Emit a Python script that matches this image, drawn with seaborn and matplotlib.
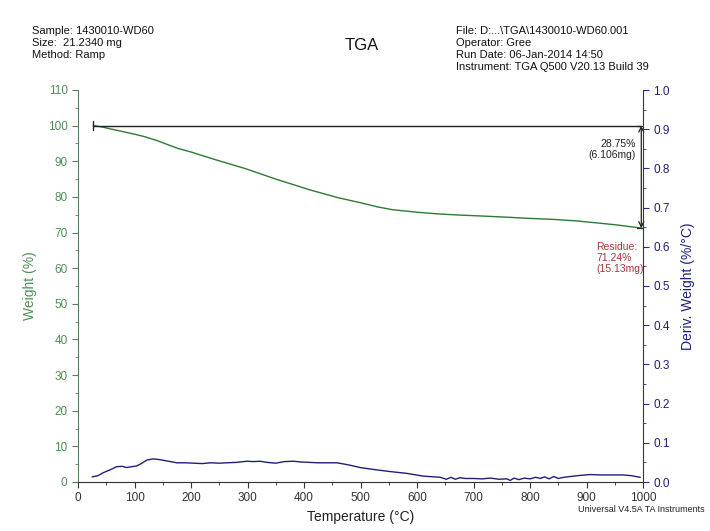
import matplotlib
matplotlib.use("Agg")
import matplotlib.pyplot as plt
import seaborn as sns
import pandas as pd
from matplotlib.ticker import MultipleLocator

# ---- data ----
w_temp = [27, 40, 60, 80, 100, 118, 140, 160, 177, 200, 240, 295, 350, 412, 460, 499, 530, 557, 600, 640, 676, 720, 760, 795, 840, 880, 912, 950, 980, 998]
w_val = [100.0, 99.7, 99.0, 98.3, 97.6, 96.9, 95.8, 94.6, 93.6, 92.6, 90.6, 88.0, 85.0, 81.9, 79.8, 78.4, 77.2, 76.4, 75.7, 75.2, 74.9, 74.6, 74.3, 74.0, 73.7, 73.3, 72.8, 72.2, 71.6, 71.24]

d_temp = [25, 35, 45, 57, 68, 78, 86, 95, 104, 112, 122, 133, 145, 160, 175, 190, 205, 220, 235, 250, 263, 280, 299, 310, 322, 335, 350, 365, 381, 395, 410, 425, 440, 458, 470, 481, 490, 499, 523, 550, 582, 611, 641, 652, 660, 668, 676, 685, 700, 715, 730, 745, 759, 765, 772, 780, 790, 800, 810, 818, 826, 834, 842, 850, 860, 877, 890, 906, 925, 945, 965, 980, 995]
d_val = [0.013, 0.016, 0.024, 0.031, 0.039, 0.040, 0.037, 0.039, 0.041, 0.047, 0.056, 0.059, 0.057, 0.053, 0.049, 0.049, 0.048, 0.047, 0.049, 0.048, 0.049, 0.050, 0.053, 0.052, 0.053, 0.050, 0.048, 0.052, 0.053, 0.051, 0.050, 0.049, 0.049, 0.049, 0.046, 0.043, 0.040, 0.037, 0.032, 0.027, 0.022, 0.015, 0.012, 0.007, 0.012, 0.007, 0.011, 0.009, 0.009, 0.008, 0.010, 0.007, 0.008, 0.004, 0.010, 0.006, 0.010, 0.008, 0.012, 0.009, 0.013, 0.008, 0.014, 0.009, 0.012, 0.015, 0.017, 0.019, 0.018, 0.018, 0.018, 0.016, 0.012]

step_start_temp = 27
step_end_temp = 997
start_weight = 100.0
residue_weight = 71.24
step_label = "28.75%\n(6.106mg)"
residue_label = "Residue:\n71.24%\n(15.13mg)"

x_ticks = list(range(0, 1001, 100))
w_ticks = list(range(0, 111, 10))
d_ticks = [0.0, 0.1, 0.2, 0.3, 0.4, 0.5, 0.6, 0.7, 0.8, 0.9, 1.0]

sns.set_style("ticks")
plt.rcParams['font.family'] = ['Liberation Sans', 'DejaVu Sans']

green = '#2d7a35'
green_lbl = '#4f8f55'
navy = '#1f1f78'
navy_spine = '#2a2a8f'

fig = plt.figure(figsize=(7.1, 5.31), dpi=100)
ax = fig.add_axes([78/710, 1-482/531, (643-78)/710, (482-90)/531])
ax2 = ax.twinx()

wdf = pd.DataFrame({'T': w_temp, 'W': w_val})
ddf = pd.DataFrame({'T': d_temp, 'D': d_val})
sns.lineplot(data=wdf, x='T', y='W', ax=ax, color=green, linewidth=1.0)
sns.lineplot(data=ddf, x='T', y='D', ax=ax2, color=navy, linewidth=1.0)

ax.set_xlim(0, 1000)
ax.set_ylim(0, 110)
ax2.set_ylim(0, 1.0)
ax.set_xticks(x_ticks)
ax.set_yticks(w_ticks)
ax2.set_yticks(d_ticks)
ax2.set_yticklabels([f"{v:.1f}" for v in d_ticks])
ax.xaxis.set_minor_locator(MultipleLocator(50))
ax.yaxis.set_minor_locator(MultipleLocator(5))
ax2.yaxis.set_minor_locator(MultipleLocator(0.05))

for a in (ax, ax2):
    a.spines['top'].set_visible(False)
ax.spines['right'].set_visible(False)
ax.spines['left'].set_color('#5a7f5e')
ax.spines['bottom'].set_color('#333333')
ax2.spines['left'].set_visible(False)
ax2.spines['bottom'].set_visible(False)
ax2.spines['right'].set_color(navy_spine)

ax.tick_params(axis='y', colors='#5a7f5e', labelcolor=green_lbl, labelsize=8.5, length=4, width=0.8)
ax.tick_params(axis='y', which='minor', colors='#5a7f5e', length=2.5)
ax.tick_params(axis='x', colors='#333333', labelcolor='#333333', labelsize=8.5, length=4, width=0.8)
ax.tick_params(axis='x', which='minor', length=2.5)
ax2.tick_params(axis='y', colors=navy_spine, labelcolor=navy, labelsize=8.5, length=4, width=0.8)
ax2.tick_params(axis='y', which='minor', colors=navy_spine, length=2.5)

ax.set_xlabel('Temperature (°C)', fontsize=10, color='#222222', labelpad=4)
ax.set_ylabel('Weight (%)', fontsize=10, color=green_lbl, labelpad=8)
ax2.set_ylabel('Deriv. Weight (%/°C)', fontsize=10, color=navy, labelpad=8)

# step annotation
ax.plot([step_start_temp, step_end_temp], [start_weight, start_weight], color='#222222', lw=1.0)
ax.plot([step_start_temp, step_start_temp], [start_weight-1.2, start_weight+1.2], color='#222222', lw=1.0)
ax.annotate('', xy=(step_end_temp, residue_weight), xytext=(step_end_temp, start_weight),
            arrowprops=dict(arrowstyle='<->', color='#222222', lw=0.9, mutation_scale=9, shrinkA=0, shrinkB=0))
ax.plot([step_end_temp-8, step_end_temp+8], [start_weight, start_weight], color='#222222', lw=0.9)
ax.plot([step_end_temp-8, step_end_temp+8], [residue_weight, residue_weight], color='#222222', lw=0.9)
ax.text(988, 93.3, step_label, ha='right', va='center',
        fontsize=7.5, color='#222222', linespacing=1.1)
ax.text(917, 62.8, residue_label, ha='left', va='center',
        fontsize=7.5, color='#a3363a', linespacing=1.1)

# header
fig.text(32/710, 1-26/531, "Sample: 1430010-WD60\nSize:  21.2340 mg\nMethod: Ramp", ha='left', va='top',
         fontsize=8, color='#111111', linespacing=1.25)
fig.text(362/710, 1-45/531, "TGA", ha='center', va='center', fontsize=12, color='#111111')
fig.text(456/710, 1-26/531, "File: D:...\\TGA\\1430010-WD60.001\nOperator: Gree\nRun Date: 06-Jan-2014 14:50\nInstrument: TGA Q500 V20.13 Build 39",
         ha='left', va='top', fontsize=8, color='#111111', linespacing=1.25)
fig.text(705/710, 1-509/531, "Universal V4.5A TA Instruments", ha='right', va='center', fontsize=6.5, color='#222222')

fig.savefig('out.png', dpi=100)
